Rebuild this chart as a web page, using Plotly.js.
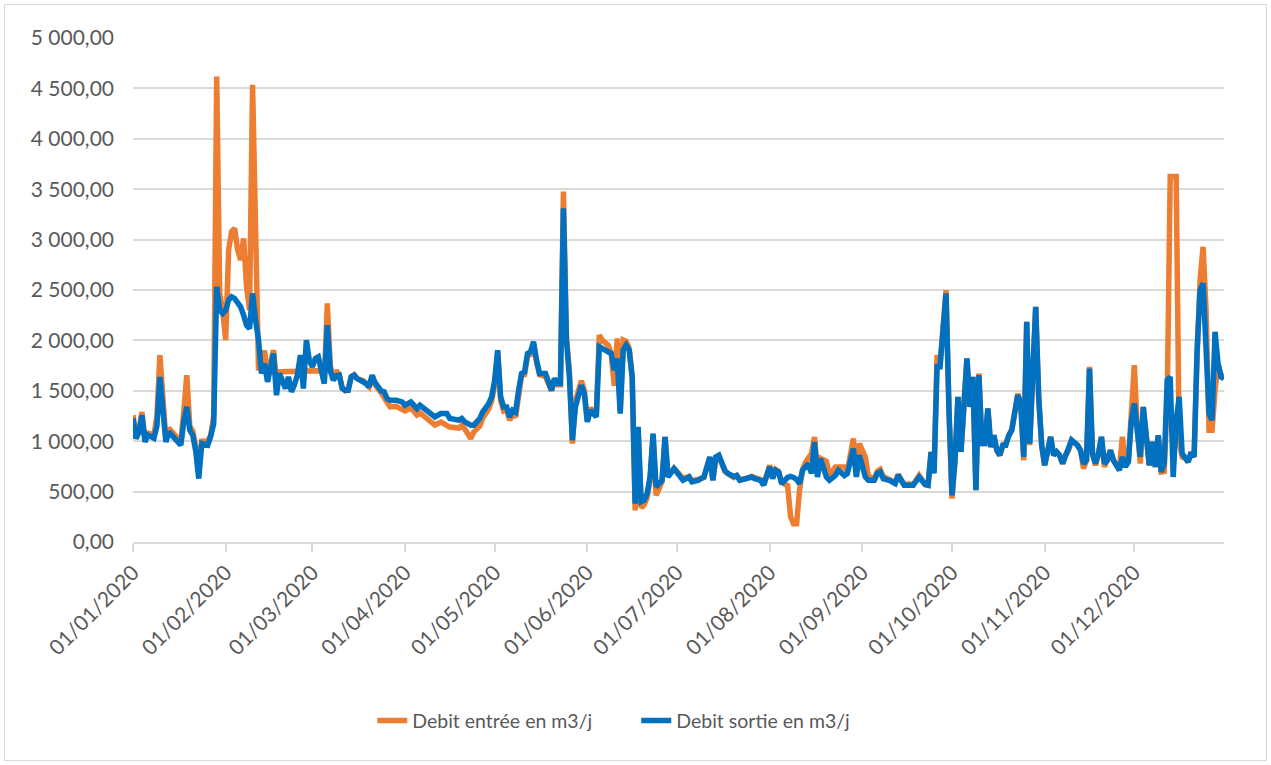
<!DOCTYPE html>
<html>
<head>
<meta charset="utf-8">
<script src="https://cdn.plot.ly/plotly-3.0.1.min.js"></script>
<style>
  html, body { margin: 0; padding: 0; background: #fff; }
  #chart { width: 1271px; height: 765px; }
  #frame { position: absolute; left: 4px; top: 4px; width: 1261px; height: 755px; border: 1.5px solid #D9D9D9; pointer-events: none; }
</style>
</head>
<body>
<div id="chart"></div>
<div id="frame"></div>
<script>
// Day offsets from 01/01/2020 (0 = 1 January)
const dayOffsets = [
  0,1,2,3,4,5,7,8,9,10,11,12,13,15,16,17,18,19,20,21,22,23,25,26,27,28,29,30,31,32,33,34,35,36,37,38,39,40,41,42,43,
  44,45,46,47,48,49,50,51,52,53,54,55,56,57,58,59,60,61,62,63,64,65,66,67,68,69,70,71,72,73,74,75,76,77,78,79,80,81,
  83,84,85,86,88,90,91,93,95,96,98,100,101,103,105,106,109,110,111,113,114,116,117,119,120,121,122,123,124,
  125,126,127,128,129,130,131,132,133,134,135,136,138,139,140,141,142,143,144,145,146,147,148,150,151,152,153,155,156,157,159,160,161,162,163,164,165,
  166,167,168,169,170,171,172,173,174,175,177,178,179,181,182,184,186,187,189,191,193,194,195,196,198,199,201,202,203,205,207,
  208,210,211,213,214,215,216,217,219,220,221,222,223,224,225,226,227,228,229,230,232,233,235,236,238,239,241,242,243,245,246,248,249,
  250,251,253,255,256,258,260,261,263,265,266,267,268,269,270,272,273,274,275,276,277,279,280,281,282,283,284,285,286,287,288,289,290,291,
  292,293,294,296,297,298,299,300,302,303,304,305,307,308,309,310,311,312,313,314,316,317,318,319,320,321,322,323,324,325,326,327,328,330,331,332,333,
  334,335,336,337,338,339,340,341,342,343,344,345,346,347,348,349,350,351,352,353,354,355,356,357,358,359,360,361,362,363,364,365
];

// Debit entrée en m3/j (orange)
const debitEntree = [
  1258,1060,1110,1290,1020,1080,1060,1250,1854,1450,1020,1130,1090,1020,990,1300,1655,1150,1100,950,700,1000,1000,1060,1250,4617,2466,2300,2003,2900,3080,3111,2900,2797,3012,2532,2300,4535,2800,1705,1750,
  1900,1650,1780,1903,1600,1688,1688,1688,1688,1688,1688,1688,1688,1688,1688,1688,1688,1688,1688,1700,1600,2367,1750,1620,1700,1660,1530,1500,1510,1640,1660,1620,1610,1600,1570,1540,1640,1560,
  1480,1430,1370,1340,1345,1320,1300,1330,1260,1280,1225,1180,1160,1190,1150,1140,1130,1160,1120,1026,1090,1150,1230,1320,1400,1560,1880,1400,1300,
  1310,1208,1270,1240,1480,1650,1660,1850,1860,1960,1790,1660,1640,1560,1500,1610,1560,1560,3476,2050,1700,976,1400,1600,1500,1200,1330,1260,2052,2003,1950,1872,1550,2020,1300,2003,1990,
  1920,1650,314,1100,340,370,440,620,1050,463,600,1043,650,730,700,630,650,610,620,640,840,620,840,850,700,680,640,660,620,630,650,
  640,620,570,760,640,720,700,590,560,250,182,182,513,720,790,844,877,1043,700,830,800,660,745,745,745,700,1026,680,976,844,650,630,700,
  720,650,620,590,670,570,575,570,660,570,565,894,700,1854,1760,2499,1300,430,811,1440,900,1820,1340,1638,513,1672,976,976,1324,943,1059,910,861,960,
  980,1070,1120,1470,1380,811,2185,960,2333,1440,960,761,1043,861,894,861,778,861,910,1010,960,910,728,811,1738,877,760,877,1043,745,811,910,811,720,1043,760,800,
  1300,1754,1109,778,1340,1043,761,993,745,1059,695,700,1400,3625,3625,3625,1000,844,830,794,890,844,1850,2600,2929,2300,1109,1109,1500,1771,1650,1650
];

// Debit sortie en m3/j (blue)
const debitSortie = [
  1225,1026,1090,1258,993,1060,1030,1150,1638,1350,993,1092,1059,993,960,1200,1340,1109,1059,900,629,976,960,1050,1175,2532,2300,2267,2300,2400,2433,2416,2380,2333,2250,2150,2118,2466,2201,2003,1672,
  1771,1589,1720,1870,1456,1672,1600,1523,1638,1490,1560,1655,1854,1523,2003,1800,1738,1820,1837,1700,1572,2151,1700,1605,1650,1655,1523,1506,1506,1638,1655,1620,1605,1600,1572,1540,1655,1580,
  1500,1490,1423,1407,1407,1390,1357,1390,1324,1357,1307,1258,1241,1274,1274,1225,1208,1225,1192,1159,1159,1225,1291,1374,1440,1605,1903,1440,1340,
  1340,1241,1307,1290,1506,1672,1688,1870,1887,1986,1804,1672,1672,1589,1506,1622,1572,1572,3310,2000,1638,1010,1340,1556,1473,1192,1307,1241,1936,1920,1887,1870,1705,1820,1274,1903,1953,
  1903,1638,381,1142,400,414,480,650,1076,546,612,1043,645,728,695,612,645,596,612,645,844,612,844,861,712,679,650,660,612,630,645,
  629,612,563,745,629,712,695,579,640,650,640,620,579,712,745,778,680,993,645,827,645,612,660,712,660,679,927,645,861,645,612,612,679,
  695,629,612,579,662,563,570,563,645,570,563,894,680,1738,1738,2466,1307,463,811,1440,894,1820,1340,1638,513,1655,976,976,1324,943,1059,910,861,960,
  960,1059,1109,1456,1374,844,2185,976,2333,1440,960,761,1043,861,894,861,778,861,910,1010,960,910,778,811,1721,877,778,877,1043,778,811,910,811,712,844,745,794,
  1200,1374,1109,844,1340,1043,761,993,745,1059,695,778,1605,1638,645,1200,1440,877,840,794,890,844,1903,2499,2565,2000,1274,1208,2085,1771,1638,1620
];

const seriesNames = ['Debit entrée en m3/j', 'Debit sortie en m3/j'];
const seriesColors = ['#ED7D31', '#0070C0'];

const base = Date.UTC(2020, 0, 1);
const dates = dayOffsets.map(d => new Date(base + d * 86400000).toISOString().slice(0, 10));

const FONT = 'Lato, "DejaVu Sans Condensed", sans-serif';

const traces = [debitEntree, debitSortie].map((vals, i) => ({
  type: 'scatter',
  mode: 'lines',
  x: dates,
  y: vals,
  name: seriesNames[i],
  line: { color: seriesColors[i], width: 5.5, shape: 'linear' },
  hoverinfo: 'x+y'
}));

const layout = {
  width: 1271,
  height: 765,
  paper_bgcolor: '#ffffff',
  plot_bgcolor: '#ffffff',
  separators: ', ',
  margin: { l: 133, r: 47, t: 38, b: 223, autoexpand: false },
  font: { family: FONT, size: 21, color: '#595959' },
  showlegend: true,
  legend: {
    orientation: 'h',
    x: 0.2193, xanchor: 'left',
    y: -0.355, yanchor: 'middle',
    entrywidth: 219,
    entrywidthmode: 'pixels',
    font: { family: FONT, size: 19.5, color: '#595959' },
    bgcolor: 'rgba(0,0,0,0)'
  },
  xaxis: {
    type: 'date',
    range: ['2020-01-01', '2020-12-31'],
    tickmode: 'linear',
    tick0: '2020-01-01',
    dtick: 'M1',
    tickformat: '%d/%m/%Y',
    tickangle: -45,
    ticks: 'outside',
    ticklen: 8,
    tickwidth: 2,
    tickcolor: '#D9D9D9',
    showline: true,
    linecolor: '#D9D9D9',
    linewidth: 2,
    showgrid: false,
    zeroline: false,
    tickfont: { family: FONT, size: 21, color: '#595959' },
    fixedrange: true
  },
  yaxis: {
    range: [0, 5000],
    tickmode: 'linear',
    tick0: 0,
    dtick: 500,
    tickformat: ',.2f',
    showgrid: true,
    gridcolor: '#D9D9D9',
    gridwidth: 2,
    zeroline: false,
    showline: false,
    ticks: '',
    ticklabelstandoff: 18,
    tickfont: { family: FONT, size: 21, color: '#595959' },
    fixedrange: true
  }
};

Plotly.newPlot('chart', traces, layout, { displayModeBar: false, staticPlot: true });
</script>
</body>
</html>
